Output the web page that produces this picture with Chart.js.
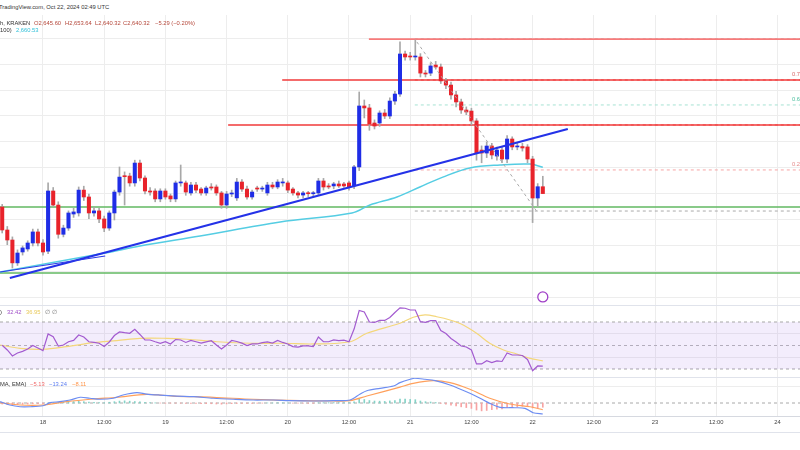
<!DOCTYPE html>
<html>
<head>
<meta charset="utf-8">
<script src="https://cdn.jsdelivr.net/npm/chart.js@4.4.1/dist/chart.umd.min.js"></script>
<style>
  html, body { margin: 0; padding: 0; background: #fff; }
  #wrap { position: relative; width: 800px; height: 450px; overflow: hidden; font-family: "Liberation Sans", Arial, sans-serif; }
  .pane { position: absolute; left: 0; width: 800px; }
  #pricePane { top: 15px; height: 290px; }
  #rsiPane { top: 305px; height: 72px; }
  #macdPane { top: 377px; height: 55px; }
  .sep { position: absolute; left: 0; width: 800px; height: 1px; background: #e0e3eb; }
  .txt { position: absolute; white-space: nowrap; font-size: 5.8px; line-height: 6px; color: #333; }
</style>
</head>
<body>
<div id="wrap">
  <div class="pane" id="pricePane"><canvas id="priceChart"></canvas></div>
  <div class="pane" id="rsiPane"><canvas id="rsiChart"></canvas></div>
  <div class="pane" id="macdPane"><canvas id="macdChart"></canvas></div>
  <div class="sep" style="top:305px"></div>
  <div class="sep" style="top:377px"></div>
  <div class="sep" style="top:416px;background:#d6d9e0"></div>
  <div class="sep" style="top:432px"></div>

  <div class="txt" style="left:-1px;top:4px">TradingView.com, Oct 22, 2024 02:49 UTC</div>
  <div class="txt" style="left:0;top:20px">h, KRAKEN</div>
  <div class="txt" style="left:34px;top:20px;color:#b5473a">O2,645.60</div>
  <div class="txt" style="left:65px;top:20px;color:#b5473a">H2,653.64</div>
  <div class="txt" style="left:95px;top:20px;color:#b5473a">L2,640.32</div>
  <div class="txt" style="left:123px;top:20px;color:#b5473a">C2,640.32</div>
  <div class="txt" style="left:155px;top:20px;color:#b5473a">−5.29 (−0.20%)</div>
  <div class="txt" style="left:0;top:27px">100)</div>
  <div class="txt" style="left:16px;top:27px;color:#2fbfd8">2,660.53</div>

  <div class="txt" style="left:0;top:309px">)</div>
  <div class="txt" style="left:7px;top:309px;color:#a050c8">32.42</div>
  <div class="txt" style="left:26px;top:309px;color:#e8c95a">36.95</div>
  <div class="txt" style="left:45px;top:309px;color:#777">∅ ∅</div>

  <div class="txt" style="left:0;top:381px">MA, EMA)</div>
  <div class="txt" style="left:30px;top:381px;color:#f06a6a">−5.13</div>
  <div class="txt" style="left:49px;top:381px;color:#5b7cf0">−13.24</div>
  <div class="txt" style="left:72px;top:381px;color:#ff9448">−8.11</div>
</div>

<script>
// hourly candles, hour 0 = Oct 18 00:00 UTC
const hours = [-8, -7, -6, -5, -4, -3, -2, -1, 0, 1,
  2, 3, 4, 5, 6, 7, 8, 9, 10, 11,
  12, 13, 14, 15, 16, 17, 18, 19, 20, 21,
  22, 23, 24, 25, 26, 27, 28, 29, 30, 31,
  32, 33, 34, 35, 36, 37, 38, 39, 40, 41,
  42, 43, 44, 45, 46, 47, 48, 49, 50, 51,
  52, 53, 54, 55, 56, 57, 58, 59, 60, 61,
  62, 63, 64, 65, 66, 67, 68, 69, 70, 71,
  72, 73, 74, 75, 76, 77, 78, 79, 80, 81,
  82, 83, 84, 85, 86, 87, 88, 89, 90, 91,
  92, 93, 94, 95, 96, 97, 98];

const opens = [2630, 2612.3, 2604.6, 2587, 2595.4, 2597.7, 2602.3, 2610.8, 2602.3, 2596,
  2642.3, 2631.5, 2609, 2613.8, 2624.6, 2625.4, 2643, 2637.7, 2625.4, 2627,
  2620.8, 2613.8, 2625.4, 2641.5, 2653.8, 2653.8, 2648.5, 2663.8, 2652.3, 2642.3,
  2642.3, 2636.2, 2642.3, 2638.5, 2636.2, 2648.5, 2648.5, 2640.8, 2646.9, 2643.8,
  2640.8, 2645.4, 2645.4, 2640.8, 2631.5, 2640, 2637, 2649.2, 2643.8, 2637.7,
  2644.6, 2643.8, 2640.8, 2646.9, 2645.4, 2648.5, 2648.5, 2643.8, 2640.8, 2639.2,
  2640.8, 2640.2, 2640.8, 2650, 2646.2, 2646.2, 2647.7, 2647.7, 2648.5, 2646.2,
  2660.8, 2707.7, 2706.2, 2694.6, 2694.6, 2702.3, 2700, 2711.5, 2716.9, 2747.7,
  2745.8, 2745.4, 2745.4, 2733, 2733, 2739.2, 2737.7, 2727, 2723.8, 2716.2,
  2710.8, 2704.6, 2703.8, 2696.2, 2673.8, 2671.5, 2676.9, 2669.2, 2673.8, 2666.9,
  2682.3, 2676.2, 2676.5, 2676.2, 2666.9, 2636.9, 2645.6];

const highs = [2632, 2615, 2607, 2597, 2600, 2604, 2613, 2613, 2605, 2648.5,
  2645, 2634, 2616, 2627, 2629, 2645.4, 2646, 2640, 2630, 2629,
  2623, 2627, 2643, 2660.8, 2657, 2656, 2666, 2666, 2654, 2645,
  2644, 2644, 2644, 2640, 2650, 2662.3, 2650, 2649, 2649, 2645,
  2646, 2648, 2647, 2642, 2642, 2643, 2652, 2651, 2646, 2643,
  2646, 2646, 2649, 2649, 2651, 2652, 2650, 2645, 2642, 2642,
  2642, 2642, 2652, 2652, 2648, 2649, 2650, 2649, 2650, 2662,
  2718.5, 2712.3, 2709, 2697, 2704, 2705, 2714, 2719, 2757, 2750,
  2749, 2758.5, 2748, 2735, 2741, 2742, 2740, 2729, 2726, 2719,
  2713, 2707, 2706, 2698, 2677, 2680, 2679, 2676, 2676, 2685,
  2684, 2679, 2679, 2678, 2669, 2648, 2653.64];

const lows = [2610, 2601, 2583, 2585, 2593, 2596, 2600, 2600, 2593, 2594,
  2630, 2606, 2607, 2612, 2622, 2623, 2635, 2621, 2623, 2618,
  2611, 2612, 2620, 2639, 2631.5, 2646, 2646, 2650, 2640, 2639,
  2634, 2634, 2636, 2634, 2634, 2646, 2639, 2639, 2641, 2639,
  2639, 2643, 2639, 2629, 2629, 2638, 2635, 2642, 2636, 2636,
  2642, 2642, 2639, 2644, 2644, 2646, 2641, 2639, 2637, 2637,
  2638, 2638, 2639, 2643, 2644, 2644, 2645, 2645, 2643, 2644,
  2658, 2698.5, 2689, 2690, 2692, 2698, 2698, 2709, 2715, 2743,
  2743, 2743, 2730, 2730, 2731, 2736, 2725, 2721, 2713, 2707,
  2702, 2701, 2693, 2666, 2664, 2668, 2667, 2666, 2664, 2664,
  2674, 2674, 2673, 2664, 2618, 2630, 2640.32];

const closes = [2612.3, 2604.6, 2587, 2594.6, 2598.5, 2602.3, 2610.8, 2602.3, 2595.4, 2642.3,
  2631.5, 2609, 2613.8, 2625.4, 2626.2, 2643, 2637.7, 2625.4, 2627, 2620.8,
  2613.8, 2625.4, 2641.5, 2653, 2653.3, 2648.5, 2663.8, 2652.3, 2642.3, 2641.5,
  2636.2, 2642.3, 2637.7, 2636.2, 2648.5, 2649.2, 2641.5, 2646.9, 2643, 2640.8,
  2644.6, 2644.6, 2640.8, 2631.5, 2640, 2640.5, 2649.2, 2643.8, 2637.7, 2641.5,
  2643.8, 2644.2, 2646.9, 2645.4, 2649.2, 2648.8, 2643, 2640.8, 2639.2, 2640.8,
  2640.2, 2640.6, 2650, 2645.4, 2645.4, 2647.7, 2646.2, 2646.2, 2645.4, 2660.8,
  2707.7, 2706.2, 2693.8, 2692.3, 2702.3, 2700, 2711.5, 2716.9, 2747.7, 2745.4,
  2745.4, 2745.8, 2733, 2732.3, 2738.5, 2737.7, 2727, 2723.8, 2716.2, 2710.8,
  2704.6, 2703.1, 2696.2, 2671.5, 2671.5, 2676.9, 2670, 2673.8, 2666.9, 2682.3,
  2676.2, 2676.5, 2675.4, 2666.9, 2636.9, 2645.6, 2640.32];

// EMA(100)
const emaHours = [-8.4, 12.2, 19, 30.8, 46.5, 60.6, 64.1, 69.4, 73.9, 78.4, 83.7, 89.6, 95.5, 98];
const emaValues = [2580, 2594.6, 2600, 2607.7, 2618.5, 2625.4, 2631.5, 2637.7, 2645.4, 2653, 2660, 2662.3, 2663, 2660.53];

// drawings on the price pane
const trendHours = [-6.5, 102.9];
const trendPrices = [2575.4, 2690];
const trend2Hours = [-8.4, 12.2];
const trend2Prices = [2580, 2592.3];
const fibTrendHours = [73.3, 96.9];
const fibTrendPrices = [2757, 2626.2];
const greenLevels = [2630, 2579.2];
const redLevels = [2759.2, 2727.7, 2693.1];
const redStartHours = [63.9, 46.9, 36.3];
const fibStartHour = 72.9;
const fibLevels = [2759.2, 2727.7, 2708.5, 2693.1, 2658.5, 2626.9];
const fibLabels = ['', '0.786(2,727.70)', '0.618(2,708.50)', '', '0.236(2,658.50)', ''];
const markerHour = 98;
const markerPrice = 2560.8;

// RSI pane
const rsiValues = [50.2, 46.2, 41.1, 43.6, 45, 47, 50, 47.9, 45.7, 59.8,
  57.5, 49.6, 50.4, 53.2, 54.3, 58.9, 57.2, 53.2, 52.7, 51.9,
  49.1, 53, 58.5, 61.5, 60.9, 60.4, 63.8, 59.4, 54.7, 54.7,
  53.2, 51.9, 53.2, 51.3, 55.1, 54.7, 52.6, 54.4, 53.2, 52,
  53.1, 54.1, 50.4, 47, 50.4, 54.3, 53.4, 52, 50, 51.4,
  51.3, 52.4, 53.1, 52.1, 54.3, 52.6, 51.3, 49.1, 48.6, 49.6,
  49.6, 49.1, 57.2, 53.2, 53.2, 54.7, 54.1, 54.5, 53.2, 64,
  79.8, 78.5, 70, 69.6, 71.4, 71.3, 73.8, 78.1, 82, 81.7,
  80.2, 80.2, 70.3, 69.7, 71.1, 71.1, 62.8, 60.2, 56, 53,
  49.6, 48.7, 46.2, 34.3, 34.3, 37.1, 35.5, 36.9, 36.4, 43.6,
  41.9, 41.9, 41.5, 38.1, 28.5, 32.6, 32.42];
const rsiMaHours = [-8.4, -4.5, 0, 4.6, 9.9, 14.5, 19, 24.3, 28.2, 34.1, 40.6, 47.1, 53, 60.2,
  63.5, 70, 72.6, 74.9, 77.2, 79.8, 82.4, 85, 87.6, 90.3, 92.9, 95.5, 98];
const rsiMaValues = [50.4, 47.6, 46.8, 49, 52.4, 54.1, 56.1, 56.1, 55.3, 53.2, 51.9, 51.9, 51.3, 53.2,
  60.4, 68.9, 74, 76, 74.5, 71.7, 67.4, 60.4, 51.9, 46.2, 42.8, 39.1, 36.95];
const rsiLevels = [70, 50, 30];

// MACD pane
const macdHours = [-8.4, -6.5, -4.5, -2.5, 0, 1.4, 3.3, 5.3, 7.3, 9.2, 11.2, 13.8, 15.7, 18.4, 20.3,
  22.9, 26.2, 29.5, 33.4, 37.3, 41.2, 45.2, 48.4, 53, 56.9, 60.2, 62.2, 63.5, 66.1, 68.7,
  70, 72, 72.9, 74.9, 76.9, 79.8, 83.7, 85.7, 87.6, 89.6, 92.5, 94.5, 96.1, 98];
const macdValues = [1.6, -2.4, -4.5, -4.5, -3.3, 0.4, 1.6, 3.6, 6.9, 5.7, 4.5, 5.7, 9.6, 12.4, 10.8,
  9.6, 8.4, 7.6, 5.7, 4.5, 3.6, 3.6, 2.8, 2.4, 2.8, 3.6, 10.8, 14.8, 17.7, 20.5,
  24.5, 28.6, 29.8, 28.6, 26.9, 21.7, 11.7, 5.7, -0.4, -5.2, -5.7, -6.4, -11.7, -13.24];
const signalHours = [-8.4, -4.5, 0, 4.6, 9.9, 14.5, 20.3, 25.5, 33.4, 41.2, 50.4, 56.9, 60.2, 63.5,
  70, 72.6, 76.5, 79.8, 83.7, 87.6, 91.5, 95.5, 98];
const signalValues = [0.4, -2.4, -2.4, 1.6, 4.8, 6.9, 10.5, 8.4, 6.9, 4.5, 2.8, 2.4, 2.8, 8.4,
  19.2, 23.7, 26.9, 24.5, 16.5, 5.7, -1.2, -4.5, -8.11];
const histValues = [-1.2, -1.8, -2.0, -1.9, -1.5, -1.2, -0.9, -0.9, -0.8, 0.3,
  0.6, 0.8, 1.1, 1.5, 1.7, 2.2, 1.6, 1.0, 0.8, 0.5,
  0.4, 0.9, 1.6, 2.3, 2.6, 2.2, 1.8, 1.4, 0.9, 0.5,
  0.2, -0.1, -0.3, -0.2, -0.2, -0.3, -0.5, -0.6, -0.6, -0.8,
  -0.8, -0.9, -1.2, -1.4, -1.1, -0.8, -0.6, -0.5, -0.6, -0.4,
  -0.3, -0.2, 0.1, 0.1, 0.3, 0.3, 0.1, -0.1, -0.3, -0.3,
  -0.4, -0.4, 0.3, 0.4, 0.4, 0.5, 0.5, 0.5, 0.4, 1.5,
  4.5, 4.2, 3.0, 2.4, 2.2, 1.9, 2.5, 3.0, 4.8, 4.6,
  4.3, 4.0, 2.4, 1.6, 1.2, 0.6, -0.5, -1.5, -2.6, -3.6,
  -4.6, -5.5, -6.5, -8.5, -9.5, -9, -8, -7.5, -7, -5.5,
  -5, -4.5, -4, -4.2, -6, -5.8, -5.13];

// time axis
const tickHours = [0, 12, 24, 36, 48, 60, 72, 84, 96, 108, 120, 132, 144];
const tickLabels = ['18', '12:00', '19', '12:00', '20', '12:00', '21', '12:00', '22', '12:00', '23', '12:00', '24'];

const X_MIN = -8.43, X_MAX = 148.43;
const GRID = '#ededed';
const UP = '#1f2de6', DOWN = '#e8232b';

const pts = (xs, ys) => xs.map((x, i) => ({ x, y: ys[i] }));
const hline = (y, from, color, width, dash, order) => ({
  type: 'line', data: [{ x: from, y }, { x: X_MAX, y }],
  borderColor: color, borderWidth: width, borderDash: dash || [],
  pointRadius: 0, order
});

const xAxis = (labels) => ({
  type: 'linear', min: X_MIN, max: X_MAX, offset: false,
  grid: { color: GRID, drawTicks: false, offset: false },
  border: { display: false },
  ticks: {
    display: labels, padding: 3, color: '#444', maxRotation: 0,
    font: { family: 'Liberation Sans', size: 5.8 },
    callback: (v) => tickLabels[tickHours.indexOf(v)]
  },
  afterBuildTicks: (axis) => { axis.ticks = tickHours.map(v => ({ value: v })); },
  afterFit: (axis) => { axis.height = labels ? 16 : 0; }
});
const yAxis = (min, max, gridTicks) => ({
  type: 'linear', position: 'right', min, max,
  grid: { color: GRID, drawTicks: false },
  border: { display: false },
  ticks: { display: false },
  afterBuildTicks: (axis) => { axis.ticks = gridTicks.map(v => ({ value: v })); },
  afterFit: (axis) => { axis.width = 0; }
});
const baseOptions = (scales) => ({
  responsive: true, maintainAspectRatio: false, animation: false,
  layout: { padding: 0, autoPadding: false },
  plugins: { legend: { display: false }, tooltip: { enabled: false } },
  scales
});

// fib labels at the right edge
const fibLabelPlugin = {
  id: 'fibLabels',
  afterDatasetsDraw(chart) {
    const ctx = chart.ctx, y = chart.scales.y;
    const colors = ['', '#d86a6a', '#4cbf9f', '', '#e58a8a', ''];
    ctx.save();
    ctx.font = '5.8px "Liberation Sans"';
    ctx.textBaseline = 'bottom';
    fibLevels.forEach((lv, i) => {
      if (!fibLabels[i]) return;
      ctx.fillStyle = colors[i];
      ctx.fillText(fibLabels[i], 792, y.getPixelForValue(lv) - 3);
    });
    ctx.restore();
  }
};

const priceGrid = [2560, 2580, 2600, 2620, 2640, 2660, 2680, 2700, 2720, 2740, 2760];
const bodies = hours.map((h, i) => ({ x: h, y: [opens[i], closes[i]] }));
const wicks = hours.map((h, i) => ({ x: h, y: [lows[i], highs[i]] }));
const bodyColors = hours.map((h, i) => closes[i] >= opens[i] ? UP : DOWN);

new Chart(document.getElementById('priceChart'), {
  type: 'bar',
  data: {
    datasets: [
      { type: 'bar', data: bodies, backgroundColor: bodyColors, barThickness: 3.4, minBarLength: 1, grouped: false, order: 3 },
      { type: 'bar', data: wicks, backgroundColor: '#a8a8a8', barThickness: 1, grouped: false, order: 4 },
      { type: 'line', data: pts(emaHours, emaValues), borderColor: '#55cde3', borderWidth: 1.5, pointRadius: 0, tension: 0.35, order: 5 },
      hline(greenLevels[0], X_MIN, '#62b862', 1.4, null, 12),
      hline(greenLevels[1], X_MIN, '#62b862', 1.4, null, 12),
      hline(fibLevels[0], fibStartHour, '#a0a0a0', 1, [3, 3], 10),
      hline(fibLevels[1], fibStartHour, '#f06060', 1, [3, 3], 10),
      hline(fibLevels[2], fibStartHour, '#a6e3d3', 1, [3, 3], 10),
      hline(fibLevels[3], fibStartHour, '#f06060', 1, [3, 3], 10),
      hline(fibLevels[4], fibStartHour, '#f7a6a6', 1, [3, 3], 10),
      hline(fibLevels[5], fibStartHour, '#aaaaaa', 1, [3, 3], 10),
      hline(redLevels[0], redStartHours[0], '#f77b7b', 1.8, null, 9),
      hline(redLevels[1], redStartHours[1], '#f03a3a', 1.5, null, 9),
      hline(redLevels[2], redStartHours[2], '#f03a3a', 1.5, null, 9),
      { type: 'line', data: pts(fibTrendHours, fibTrendPrices), borderColor: '#a9a9a9', borderWidth: 1, borderDash: [3, 3], pointRadius: 0, order: 2 },
      { type: 'line', data: pts(trend2Hours, trend2Prices), borderColor: '#2d3ae6', borderWidth: 1.2, pointRadius: 0, order: 1 },
      { type: 'line', data: pts(trendHours, trendPrices), borderColor: '#2432e8', borderWidth: 2.2, pointRadius: 0, order: 1 },
      { type: 'line', data: [{ x: markerHour, y: markerPrice }], showLine: false, pointRadius: 5, pointBackgroundColor: '#fff', pointBorderColor: '#a040c8', pointBorderWidth: 1.3, order: 0, clip: false }
    ]
  },
  options: baseOptions({ x: xAxis(false), y: yAxis(2554.6, 2777.7, priceGrid) }),
  plugins: [fibLabelPlugin]
});

new Chart(document.getElementById('rsiChart'), {
  type: 'line',
  data: {
    datasets: [
      Object.assign(hline(rsiLevels[0], X_MIN, '#a8a8a8', 1, [3, 3], 5), { fill: 1, backgroundColor: 'rgba(150, 90, 230, 0.11)' }),
      hline(rsiLevels[2], X_MIN, '#a8a8a8', 1, [3, 3], 5),
      hline(rsiLevels[1], X_MIN, '#b8b8b8', 1, [3, 3], 5),
      { data: pts(hours, rsiValues), borderColor: '#a35bd0', borderWidth: 1.2, pointRadius: 0, order: 1 },
      { data: pts(rsiMaHours, rsiMaValues), borderColor: '#f4d77a', borderWidth: 1.2, pointRadius: 0, tension: 0.35, order: 2 }
    ]
  },
  options: baseOptions({ x: xAxis(false), y: yAxis(23.19, 84.47, [40, 60]) })
});

new Chart(document.getElementById('macdChart'), {
  type: 'bar',
  data: {
    datasets: [
      { type: 'bar', data: pts(hours, histValues), backgroundColor: histValues.map(v => v >= 0 ? '#84d2c7' : '#f7a3a3'), barThickness: 1, grouped: false, order: 4 },
      hline(0, X_MIN, '#a8a8a8', 1, [3, 3], 5),
      { type: 'line', data: pts(macdHours, macdValues), borderColor: '#6d8df2', borderWidth: 1.2, pointRadius: 0, tension: 0.3, order: 1 },
      { type: 'line', data: pts(signalHours, signalValues), borderColor: '#ffa05c', borderWidth: 1.2, pointRadius: 0, tension: 0.3, order: 2 }
    ]
  },
  options: baseOptions({ x: xAxis(true), y: yAxis(-15.66, 31.33, [20]) })
});
</script>
</body>
</html>
